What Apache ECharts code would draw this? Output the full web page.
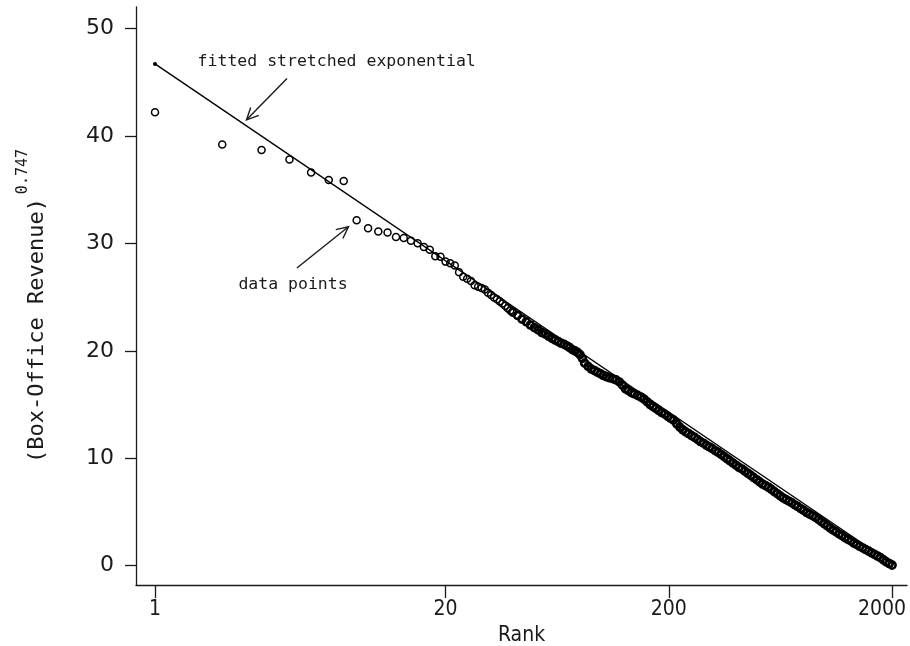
<!DOCTYPE html>
<html>
<head>
<meta charset="utf-8">
<script src="https://cdn.jsdelivr.net/npm/echarts@6/dist/echarts.min.js"></script>
<style>
html, body { margin: 0; padding: 0; background: #fff; }
#main { width: 910px; height: 646px; }
</style>
</head>
<body>
<div id="main"></div>
<script>
// ranks of the films
var ranks = [1, 2, 3, 4, 5, 6, 7, 8, 9, 10, 11, 12, 13, 14, 15, 16, 17, 18, 19,
  20, 21, 22, 23, 24, 25, 26, 27, 28, 29, 30, 31, 32, 33, 34, 35, 36, 37, 38, 39, 40,
  42, 44, 46, 48, 50, 52, 54, 56, 58, 60, 62, 64, 66, 68, 70, 72, 74, 76, 78, 80,
  82, 84, 87, 90, 93, 96, 99, 102, 105, 108, 112, 116, 120, 124, 128, 132, 136, 140,
  145, 150, 155, 160, 165, 170, 175, 180, 186, 192, 198, 204, 210, 217, 224, 231,
  238, 245, 253, 261, 269, 277, 286, 295, 304, 313, 323, 333, 343, 354, 365, 376,
  388, 400, 412, 425, 438, 452, 466, 480, 495, 510, 526, 542, 559, 576, 594, 612,
  631, 650, 670, 691, 712, 734, 757, 780, 804, 829, 855, 881, 908, 936, 965, 995,
  1025, 1057, 1090, 1123, 1158, 1194, 1231, 1269, 1308, 1348, 1390, 1433, 1477,
  1523, 1570, 1618, 1668, 1720, 1773, 1828, 1884, 1942, 2000];
// (box-office revenue)^0.747 for each rank
var revenue = [42.2, 39.2, 38.7, 37.8, 36.6, 35.9, 35.8, 32.15, 31.4, 31.1, 31.0, 30.6, 30.5, 30.25, 30.0, 29.65, 29.4, 28.8, 28.75,
  28.3, 28.15, 27.95, 27.3, 26.9, 26.7, 26.5, 26.1, 25.95, 25.85, 25.7, 25.4, 25.2, 24.95, 24.8, 24.6, 24.4, 24.2, 23.95, 23.75, 23.6,
  23.3, 22.95, 22.7, 22.4, 22.15, 21.95, 21.7, 21.55, 21.35, 21.15, 21.0, 20.85, 20.7, 20.6, 20.45, 20.3, 20.1, 20.0, 19.85, 19.65,
  19.3, 18.85, 18.55, 18.3, 18.15, 18.0, 17.85, 17.7, 17.6, 17.5, 17.4, 17.3, 17.1, 16.8, 16.45, 16.3, 16.1, 16.0,
  15.85, 15.7, 15.5, 15.25, 15.0, 14.8, 14.65, 14.45, 14.25, 14.1, 13.9, 13.7, 13.55, 13.2, 12.9, 12.65,
  12.45, 12.3, 12.1, 11.95, 11.75, 11.55, 11.4, 11.2, 11.05, 10.9, 10.7, 10.55, 10.35, 10.15, 9.95, 9.75,
  9.55, 9.35, 9.15, 9.0, 8.8, 8.6, 8.4, 8.2, 8.0, 7.8, 7.6, 7.45, 7.3, 7.1, 6.9, 6.7,
  6.5, 6.3, 6.15, 6.0, 5.85, 5.65, 5.5, 5.3, 5.15, 4.95, 4.8, 4.65, 4.5, 4.3, 4.1, 3.9,
  3.7, 3.5, 3.3, 3.15, 2.95, 2.8, 2.6, 2.45, 2.3, 2.1, 1.95, 1.8, 1.65,
  1.5, 1.35, 1.2, 1.05, 0.9, 0.75, 0.55, 0.35, 0.2, 0.05];
// fitted stretched exponential (straight in these coordinates)
var fitRanks = [1, 2000];
var fitValues = [46.7, 0.2];
var xTicks = [1, 20, 200, 2000];
var yTicks = [0, 10, 20, 30, 40, 50];

var myChart = echarts.init(document.getElementById('main'));

// where the circles start to pile up into a solid band
var denseFrom = 40;
var sparse = [], dense = [];
ranks.forEach(function (r, i) {
  (r < denseFrom ? sparse : dense).push([r, revenue[i]]);
});
var fit = fitRanks.map(function (r, i) {
  return { value: [r, fitValues[i]], symbol: i === 0 ? 'circle' : 'none' };
});

var ink = '#1a1a1a';
var labelFont = "'DejaVu Sans', sans-serif";
var narrowFont = "'DejaVu Sans Condensed', 'DejaVu Sans', sans-serif";
var monoFont = "'DejaVu Sans Mono', 'Liberation Mono', monospace";

var option = {
  backgroundColor: '#fff',
  animation: false,
  grid: { left: 136, right: 3, top: 7, bottom: 61, outerBoundsMode: 'none', containLabel: false },
  xAxis: {
    type: 'log',
    logBase: 10,
    min: 0.822,
    max: 2332,
    name: 'Rank',
    nameLocation: 'middle',
    nameGap: 36,
    nameTextStyle: { color: ink, fontSize: 21, fontFamily: narrowFont },
    axisLine: { onZero: false, lineStyle: { color: ink, width: 1.3 } },
    axisTick: { customValues: xTicks, length: 13, lineStyle: { color: ink, width: 1.3 } },
    axisLabel: {
      customValues: xTicks,
      margin: 14,
      color: ink,
      fontSize: 21,
      fontFamily: narrowFont,
      formatter: function (v) { return v === 2000 ? '{r|2000}' : String(v); },
      rich: { r: { fontSize: 21, fontFamily: narrowFont, color: ink, padding: [0, 20, 0, 0] } }
    },
    splitLine: { show: false }
  },
  yAxis: {
    type: 'value',
    min: -1.8,
    max: 52,
    name: '{a|(Box-Office Revenue)}{b|0.747}',
    nameLocation: 'middle',
    nameRotate: 90,
    nameGap: 88,
    nameTextStyle: {
      rich: {
        a: { fontSize: 22, fontFamily: monoFont, color: ink, lineHeight: 32, verticalAlign: 'bottom' },
        b: { fontSize: 15, fontFamily: monoFont, color: ink, lineHeight: 32, verticalAlign: 'top', padding: [0, 20, 0, 4] }
      }
    },
    axisLine: { show: true, lineStyle: { color: ink, width: 1.3 } },
    axisTick: { show: true, customValues: yTicks, length: 11, lineStyle: { color: ink, width: 1.3 } },
    axisLabel: { customValues: yTicks, margin: 22, color: ink, fontSize: 22, fontFamily: labelFont },
    splitLine: { show: false }
  },
  series: [
    {
      name: 'data points',
      type: 'scatter',
      data: sparse,
      symbol: 'circle',
      symbolSize: 7,
      itemStyle: { color: 'rgba(255,255,255,0)', borderColor: '#000', borderWidth: 1.5, opacity: 1 },
      z: 2
    },
    {
      name: 'data points (dense)',
      type: 'scatter',
      data: dense,
      symbol: 'circle',
      symbolSize: 7,
      itemStyle: { color: 'rgba(255,255,255,0)', borderColor: '#000', borderWidth: 2.6, opacity: 1 },
      z: 2
    },
    {
      name: 'fitted stretched exponential',
      type: 'line',
      data: fit,
      symbolSize: 4,
      showSymbol: true,
      itemStyle: { color: '#000' },
      lineStyle: { color: '#000', width: 1.4 },
      z: 3
    }
  ]
};
myChart.setOption(option);

// annotation anchors in data coordinates [rank, value]
var notes = [
  { text: 'fitted stretched exponential', at: [6.51, 46.9], from: [3.9, 45.35], to: [2.57, 41.5] },
  { text: 'data points', at: [4.15, 26.15], from: [4.32, 27.7], to: [7.35, 31.55] }
];

var graphics = [];
notes.forEach(function (n) {
  var c = myChart.convertToPixel({ gridIndex: 0 }, n.at);
  var a = myChart.convertToPixel({ gridIndex: 0 }, n.from);
  var b = myChart.convertToPixel({ gridIndex: 0 }, n.to);
  graphics.push({
    type: 'text', x: c[0], y: c[1],
    style: { text: n.text, font: '16.5px ' + monoFont, fill: ink, align: 'center', verticalAlign: 'middle' }
  });
  var ang = Math.atan2(a[1] - b[1], a[0] - b[0]);
  var len = 13, spread = 0.45;
  graphics.push({
    type: 'polyline',
    shape: { points: [a, b] },
    style: { stroke: ink, lineWidth: 1.4, fill: null }
  });
  graphics.push({
    type: 'polyline',
    shape: { points: [
      [b[0] + len * Math.cos(ang + spread), b[1] + len * Math.sin(ang + spread)],
      b,
      [b[0] + len * Math.cos(ang - spread), b[1] + len * Math.sin(ang - spread)]
    ] },
    style: { stroke: ink, lineWidth: 1.4, fill: null }
  });
});
myChart.setOption({ graphic: graphics });
</script>
</body>
</html>
